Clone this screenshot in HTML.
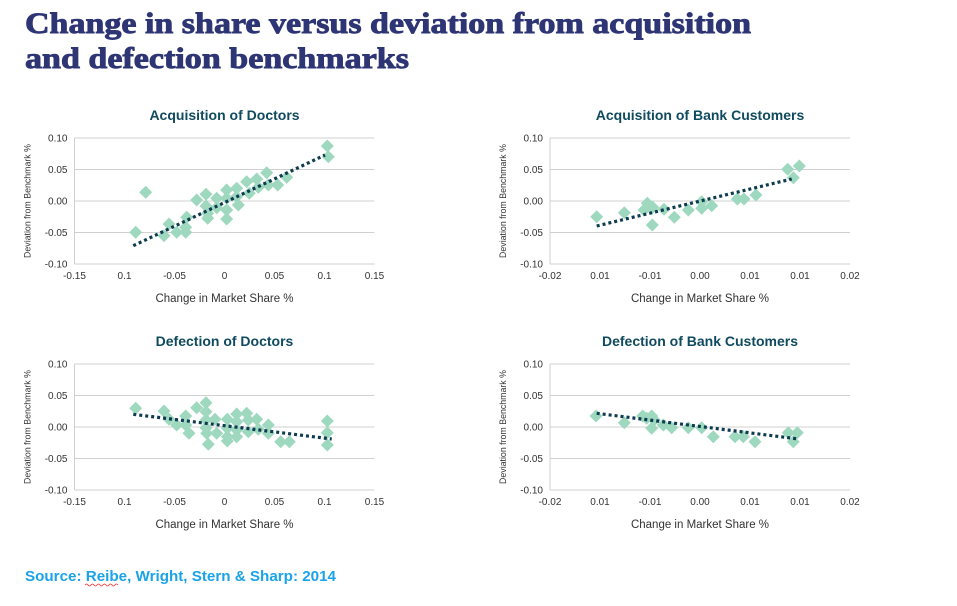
<!DOCTYPE html>
<html><head><meta charset="utf-8"><style>
html,body{margin:0;padding:0;background:#fff;}
svg{display:block;}
.tk{font-family:"Liberation Sans",sans-serif;font-size:10px;fill:#333;}
.ct{font-family:"Liberation Sans",sans-serif;font-size:14px;font-weight:bold;fill:#0f4a5e;}
.ax{font-family:"Liberation Sans",sans-serif;font-size:11.5px;fill:#333;}
.ay{font-family:"Liberation Sans",sans-serif;font-size:8.8px;fill:#333;}
</style></head><body>
<svg id="s" width="957" height="606" viewBox="0 0 957 606" xmlns="http://www.w3.org/2000/svg">
<text x="25" y="33" font-family="Liberation Serif,serif" font-weight="bold" font-size="30" fill="#2e3574" stroke="#2e3574" stroke-width="0.9" textLength="726" lengthAdjust="spacingAndGlyphs">Change in share versus deviation from acquisition</text>
<text x="25" y="68" font-family="Liberation Serif,serif" font-weight="bold" font-size="30" fill="#2e3574" stroke="#2e3574" stroke-width="0.9" textLength="384" lengthAdjust="spacingAndGlyphs">and defection benchmarks</text>
<text x="25" y="581" font-family="Liberation Sans,sans-serif" font-weight="bold" font-size="15" fill="#1aa3e8" textLength="311" lengthAdjust="spacingAndGlyphs">Source: Reibe, Wright, Stern &amp; Sharp: 2014</text>
<path d="M85,585 q1.5,-2 3,0 t3,0 t3,0 t3,0 t3,0 t3,0 t3,0 t3,0 t3,0 t3,0 t3,0" stroke="#e33" stroke-width="0.8" fill="none"/>
</svg>
<script>
var s=document.getElementById('s'),NS='http://www.w3.org/2000/svg';
function el(t,a,txt){var e=document.createElementNS(NS,t);for(var k in a)e.setAttribute(k,a[k]);if(txt!==undefined)e.textContent=txt;s.appendChild(e);return e;}
function chart(o){
 var L=o.L,R=L+300,T=o.T,B=T+126;
 for(var i=0;i<5;i++){var y=T+i*31.5;el('line',{x1:L,x2:R,y1:y,y2:y,stroke:'#d0d0d0','stroke-width':1});
  el('text',{x:L-7,y:y+3.5,'text-anchor':'end',class:'tk'},['0.10','0.05','0.00','-0.05','-0.10'][i]);}
 el('line',{x1:L,x2:L,y1:T,y2:B,stroke:'#d0d0d0','stroke-width':1});
 for(var i=0;i<7;i++){el('text',{x:L+i*50,y:B+15,'text-anchor':'middle',class:'tk'},o.xl[i]);}
 el('text',{x:L+150,y:T-18,'text-anchor':'middle',class:'ct'},o.title);
 el('text',{x:L+150,y:B+38,'text-anchor':'middle',class:'ax'},'Change in Market Share %');
 el('text',{x:0,y:0,'text-anchor':'middle',class:'ay',transform:'translate('+(L-44)+','+(T+63)+') rotate(-90)'},'Deviation from Benchmark %');
 o.p.forEach(function(p){var x=p[0],y=p[1],r=6.5;el('path',{d:'M'+x+','+(y-r)+'L'+(x+r)+','+y+'L'+x+','+(y+r)+'L'+(x-r)+','+y+'Z',fill:'#9ed8bf'});});
 el('line',{x1:o.t[0],y1:o.t[1],x2:o.t[2],y2:o.t[3],stroke:'#0d3b4f','stroke-width':3.2,'stroke-dasharray':'3 3'});
}
var xd=['-0.15','0.1','-0.05','0','0.05','0.1','0.15'],xb=['-0.02','0.01','-0.01','0.00','0.01','0.01','0.02'];
chart({L:74.5,T:138,title:'Acquisition of Doctors',xl:xd,p:[[135.7,232.3],[145.7,192.3],[164,235.7],[169,224],[176.7,232.3],[185.7,232.3],[185.7,227.3],[186.7,217.3],[196.7,200],[206,194.3],[206,206],[207.7,213.3],[207.7,218.3],[216.7,198.3],[216.7,207.7],[226.7,190],[226.7,198.3],[226.7,210],[226.7,219],[236.7,188.3],[236.7,196.7],[238.3,205],[246.7,181.7],[249.3,193.3],[256.7,179],[258.3,187.3],[266.7,172.7],[268.3,185],[277.7,185],[286.7,177.3],[327.3,146],[328.3,156.7]],t:[133.3,245.7,325,155]});
chart({L:550,T:138,title:'Acquisition of Bank Customers',xl:xb,p:[[596.7,216.7],[624.3,212.7],[644,210],[647.3,203.3],[652.7,207.3],[652.3,225],[664,209.3],[674.3,217.3],[688.3,210],[701.7,201.7],[701.7,208.3],[711.7,205.7],[737.3,199],[744,199],[756,195],[787.7,169.3],[793.3,177.7],[799.3,166]],t:[596.7,226,791.7,179]});
chart({L:74.5,T:364,title:'Defection of Doctors',xl:xd,p:[[135.7,408.3],[164,411],[169,419.3],[176.7,425],[185.7,416],[185.7,425],[189,433.3],[196.7,407.7],[206,402.7],[206,411.7],[206,420],[206,427.7],[206.7,433.3],[208.3,444.3],[215,419.3],[216.7,433.3],[227.3,419.3],[227.3,428.3],[227.3,436.7],[227.3,441],[236.7,414],[236.7,421.7],[236.7,430],[236.7,436.7],[246.7,413.3],[248.3,420],[248.3,431.7],[256.7,419.3],[258.3,429.3],[268.3,425],[268.3,433.3],[280.7,441.7],[289.3,441.7],[327.3,421],[327.3,432.7],[327.3,445]],t:[133.3,414.3,331.7,439]});
chart({L:550,T:364,title:'Defection of Bank Customers',xl:xb,p:[[596,416],[624.3,422.7],[642.7,416],[646.7,418.3],[651.7,416],[654.3,420],[651.7,428.3],[663.3,425],[671.7,427.7],[688.3,427.7],[701.7,427.7],[713.3,436.7],[735,436.7],[743.3,436.7],[755,441.7],[788.3,432.7],[793.3,441.7],[797.3,432.7]],t:[596.7,413.3,798.3,439]});
</script>
</body></html>
